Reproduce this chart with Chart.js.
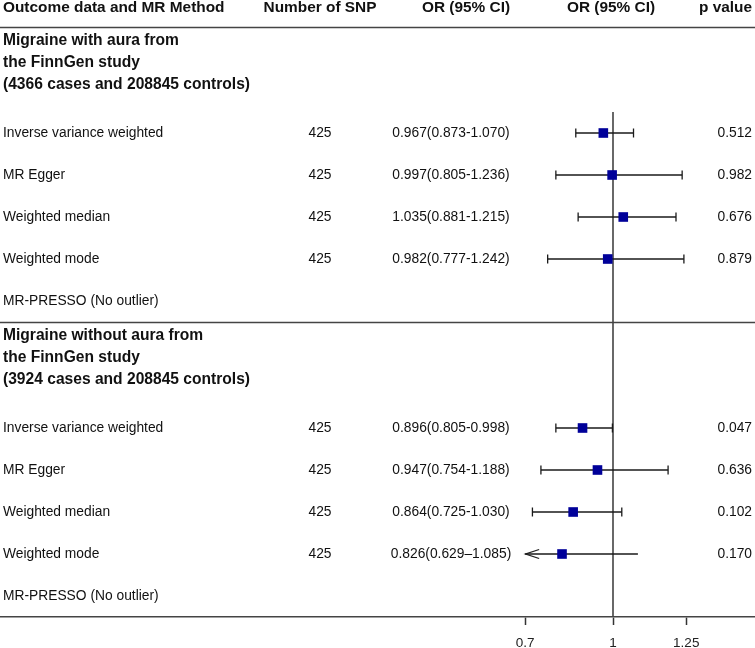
<!DOCTYPE html>
<html>
<head>
<meta charset="utf-8">
<title>MR forest plot</title>
<script src="https://cdn.jsdelivr.net/npm/chart.js@4.4.1/dist/chart.umd.min.js"></script>
<style>
  html, body { margin: 0; padding: 0; background: #fff; overflow: hidden; }
  #wrap { width: 755px; height: 648px; }
</style>
</head>
<body>
<div id="wrap"><canvas id="forest" width="755" height="648"></canvas></div>
<script>
// ---- data ----
const headerLabels = ["Outcome data and MR Method", "Number of SNP", "OR (95% CI)", "OR (95% CI)", "p value"];
const groupTitles = [
  ["Migraine with aura from", "the FinnGen study", "(4366 cases and 208845 controls)"],
  ["Migraine without aura from", "the FinnGen study", "(3924 cases and 208845 controls)"],
];
const methods = ["Inverse variance weighted", "MR Egger", "Weighted median", "Weighted mode"];
const pressoLabel = "MR-PRESSO (No outlier)";
const snpCounts = [[425, 425, 425, 425], [425, 425, 425, 425]];
const orValues = [[0.967, 0.997, 1.035, 0.982], [0.896, 0.947, 0.864, 0.826]];
const ciLower = [[0.873, 0.805, 0.881, 0.777], [0.805, 0.754, 0.725, 0.629]];
const ciUpper = [[1.070, 1.236, 1.215, 1.242], [0.998, 1.188, 1.030, 1.085]];
const orLabels = [
  ["0.967(0.873-1.070)", "0.997(0.805-1.236)", "1.035(0.881-1.215)", "0.982(0.777-1.242)"],
  ["0.896(0.805-0.998)", "0.947(0.754-1.188)", "0.864(0.725-1.030)", "0.826(0.629\u20131.085)"],
];
const pValues = [["0.512", "0.982", "0.676", "0.879"], ["0.047", "0.636", "0.102", "0.170"]];
const xTicks = [0.7, 1, 1.25];
const xClip = 0.7;

// ---- layout ----
const FONT = "'Liberation Sans', Arial, Helvetica, sans-serif";
const W = 755;
const REF_PX = 613;        // where OR = 1 sits
const PX_PER_UNIT = 293;
const X_MIN = 1 - REF_PX / PX_PER_UNIT;
const X_MAX = 1 + (W - REF_PX) / PX_PER_UNIT;
const PLOT_BOTTOM = 617;
const HEADER_Y = 8;
const TOP_RULE = 27;
const BLOCK = 295;

const ruleY = (g) => TOP_RULE + g * BLOCK;
const titleY = (g, i) => ruleY(g) + 13.5 + 22 * i;
const rowY = (g, i) => ruleY(g) + 106 + 42 * i;

const LINE_COLOR = "#1a1a1a";
const BOX_COLOR = "#000099";

const rows = [];
orValues.forEach((grp, g) => {
  grp.forEach((est, i) => {
    rows.push({ g, i, est, lo: ciLower[g][i], hi: ciUpper[g][i], y: rowY(g, i) });
  });
});

function makeArrow() {
  const c = document.createElement("canvas");
  c.width = 32;
  c.height = 12;
  const ctx = c.getContext("2d");
  ctx.strokeStyle = LINE_COLOR;
  ctx.lineWidth = 1.3;
  ctx.beginPath();
  ctx.moveTo(30, 1.5);
  ctx.lineTo(16.5, 6);
  ctx.lineTo(30, 10.5);
  ctx.stroke();
  return c;
}

const datasets = [
  {
    label: "OR",
    data: rows.map((r) => ({ x: r.est, y: r.y })),
    pointStyle: "rect",
    pointRadius: 6.8,
    backgroundColor: BOX_COLOR,
    borderColor: BOX_COLOR,
    borderWidth: 0,
  },
  {
    label: "caps",
    data: rows.filter((r) => r.lo >= xClip).flatMap((r) => [{ x: r.lo, y: r.y }, { x: r.hi, y: r.y }]),
    pointStyle: "line",
    rotation: 90,
    pointRadius: 4.5,
    borderColor: LINE_COLOR,
    borderWidth: 1.3,
  },
  {
    label: "arrows",
    data: rows.filter((r) => r.lo < xClip).map((r) => ({ x: xClip, y: r.y })),
    pointStyle: makeArrow(),
  },
  ...rows.map((r) => ({
    label: "CI",
    data: [{ x: Math.max(r.lo, xClip), y: r.y }, { x: r.hi, y: r.y }],
    showLine: true,
    pointRadius: 0,
    borderColor: LINE_COLOR,
    borderWidth: 1.3,
  })),
  {
    label: "ref",
    data: [{ x: 1, y: rowY(0, 0) - 21 }, { x: 1, y: PLOT_BOTTOM }],
    showLine: true,
    pointRadius: 0,
    borderColor: "#444",
    borderWidth: 1.6,
  },
];

const tablePlugin = {
  id: "forestTable",
  beforeDatasetsDraw(chart) {
    const { ctx } = chart;
    const ys = chart.scales.y;
    ctx.save();
    ctx.strokeStyle = "#444";
    ctx.lineWidth = 1.6;
    [0, 1].forEach((g) => {
      const py = Math.round(ys.getPixelForValue(ruleY(g))) + 0.5;
      ctx.beginPath();
      ctx.moveTo(0, py);
      ctx.lineTo(chart.width, py);
      ctx.stroke();
    });
    ctx.restore();
  },
  afterDraw(chart) {
    const { ctx } = chart;
    const ys = chart.scales.y;
    const py = (v) => ys.getPixelForValue(v);
    ctx.save();
    ctx.fillStyle = "#111";
    ctx.textBaseline = "middle";

    ctx.font = `bold 15.4px ${FONT}`;
    const headerPos = [[3, "left"], [320, "center"], [466, "center"], [611, "center"], [752, "right"]];
    headerLabels.forEach((t, k) => {
      ctx.textAlign = headerPos[k][1];
      ctx.fillText(t, headerPos[k][0], py(HEADER_Y));
    });

    groupTitles.forEach((lines, g) => {
      ctx.font = `bold 15.6px ${FONT}`;
      ctx.textAlign = "left";
      lines.forEach((t, i) => ctx.fillText(t, 3, py(titleY(g, i))));

      ctx.font = `13.8px ${FONT}`;
      methods.forEach((m, i) => {
        const y = py(rowY(g, i));
        ctx.textAlign = "left";
        ctx.fillText(m, 3, y);
        ctx.textAlign = "center";
        ctx.fillText(String(snpCounts[g][i]), 320, y);
        ctx.fillText(orLabels[g][i], 451, y);
        ctx.textAlign = "right";
        ctx.fillText(pValues[g][i], 752, y);
      });
      ctx.textAlign = "left";
      ctx.fillText(pressoLabel, 3, py(rowY(g, methods.length)));
    });
    ctx.restore();
  },
};

new Chart(document.getElementById("forest"), {
  type: "scatter",
  data: { datasets },
  options: {
    responsive: false,
    animation: false,
    layout: { padding: 0, autoPadding: false },
    plugins: {
      legend: { display: false },
      tooltip: { enabled: false },
    },
    scales: {
      x: {
        type: "linear",
        position: "bottom",
        min: X_MIN,
        max: X_MAX,
        afterBuildTicks(scale) {
          scale.ticks = xTicks.map((v) => ({ value: v }));
        },
        afterFit(scale) {
          scale.height = 648 - PLOT_BOTTOM;
        },
        ticks: {
          autoSkip: false,
          maxRotation: 0,
          padding: 12,
          color: "#222",
          font: { family: FONT, size: 13.5, lineHeight: 1 },
          callback: (v) => String(v),
        },
        grid: {
          drawOnChartArea: false,
          drawTicks: true,
          tickLength: 8,
          tickWidth: 1.5,
          tickColor: "#333",
        },
        border: { display: true, color: "#444", width: 1.6 },
      },
      y: {
        type: "linear",
        display: false,
        reverse: true,
        min: 0,
        max: PLOT_BOTTOM,
      },
    },
  },
  plugins: [tablePlugin],
});
</script>
</body>
</html>
